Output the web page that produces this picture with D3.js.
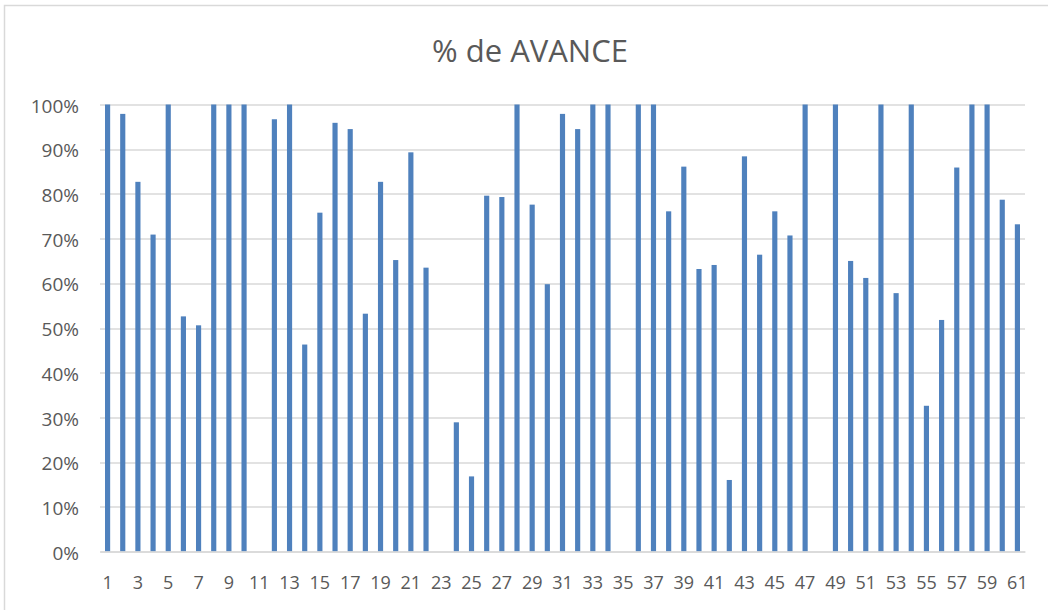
<!DOCTYPE html>
<html>
<head>
<meta charset="utf-8">
<script src="https://cdn.jsdelivr.net/npm/d3@7"></script>
<style>
  body { margin: 0; background: #fff; }
  svg { display: block; font-family: "Open Sans", "Liberation Sans", sans-serif; }
</style>
</head>
<body>
<div id="chart"></div>
<script>
// DATA
const categories = d3.range(1, 62);
const avance = [
  1.00, 0.979, 0.827, 0.709, 1.00, 0.526, 0.506, 1.00, 1.00, 1.00,
  0.00, 0.967, 1.00, 0.463, 0.758, 0.959, 0.945, 0.532, 0.827, 0.652,
  0.893, 0.635, 0.00, 0.289, 0.168, 0.796, 0.793, 1.00, 0.776, 0.598,
  0.979, 0.945, 1.00, 1.00, 0.00, 1.00, 1.00, 0.761, 0.861, 0.632,
  0.641, 0.160, 0.884, 0.664, 0.761, 0.707, 1.00, 0.00, 1.00, 0.650,
  0.612, 1.00, 0.578, 1.00, 0.326, 0.518, 0.859, 1.00, 1.00, 0.787,
  0.732
];
const yTicks = d3.range(0, 1.01, 0.1);
const xTickLabels = categories.filter(d => d % 2 === 1);

// SIZE
const svgWidth = 1048;
const svgHeight = 610;
const margin = { top: 104.5, right: 23, bottom: 58.5, left: 100 };
const width = svgWidth - margin.left - margin.right;
const height = svgHeight - margin.top - margin.bottom;

const textColor = "#595959";
const gridColor = "#d9d9d9";
const barColor = "#4f81bd";

const svg = d3.select("#chart")
  .append("svg")
  .attr("width", svgWidth)
  .attr("height", svgHeight);

// chart frame (only left + top visible in the picture)
svg.append("rect")
  .attr("x", 4.5)
  .attr("y", 5.5)
  .attr("width", svgWidth + 10)
  .attr("height", svgHeight + 10)
  .attr("fill", "#fff")
  .attr("stroke", "#d9d9d9")
  .attr("stroke-width", 1.5);

// TITLE
svg.append("text")
  .attr("x", 530)
  .attr("y", 62)
  .attr("text-anchor", "middle")
  .attr("fill", textColor)
  .style("font-size", "31px")
  .text("% de AVANCE");

const g = svg.append("g")
  .attr("transform", `translate(${margin.left},${margin.top})`);

// SCALES
const xScale = d3.scaleBand()
  .domain(categories)
  .range([0, width])
  .paddingInner(0.66)
  .paddingOuter(0.33);

const yScale = d3.scaleLinear()
  .domain([0, 1])
  .range([height, 0]);

// GRIDLINES
g.append("g")
  .selectAll("line")
  .data(yTicks)
  .join("line")
  .attr("x1", 0)
  .attr("x2", width)
  .attr("y1", d => Math.round(yScale(d)) + 0.5)
  .attr("y2", d => Math.round(yScale(d)) + 0.5)
  .attr("stroke", gridColor)
  .attr("stroke-width", 1.5);

// Y AXIS
const yAxis = d3.axisLeft(yScale)
  .tickValues(yTicks)
  .tickFormat(d3.format(".0%"))
  .tickSize(0)
  .tickPadding(21);

g.append("g")
  .call(yAxis)
  .call(s => s.select(".domain").remove())
  .selectAll("text")
  .attr("fill", textColor)
  .attr("dy", "0.4em")
  .style("font-size", "19px")
  .style("font-family", "'Open Sans', sans-serif");

// BARS
g.append("g")
  .selectAll("rect")
  .data(avance)
  .join("rect")
  .attr("x", (d, i) => xScale(categories[i]))
  .attr("y", d => yScale(d))
  .attr("width", xScale.bandwidth())
  .attr("height", d => height - yScale(d))
  .attr("fill", barColor);

// X AXIS
const xAxis = d3.axisBottom(xScale)
  .tickValues(xTickLabels)
  .tickSize(0)
  .tickPadding(25);

g.append("g")
  .attr("transform", `translate(0,${height})`)
  .call(xAxis)
  .call(s => s.select(".domain")
    .attr("stroke", gridColor)
    .attr("stroke-width", 1.5))
  .selectAll("text")
  .attr("fill", textColor)
  .style("font-size", "18px")
  .style("font-family", "'Open Sans', sans-serif");
</script>
</body>
</html>
